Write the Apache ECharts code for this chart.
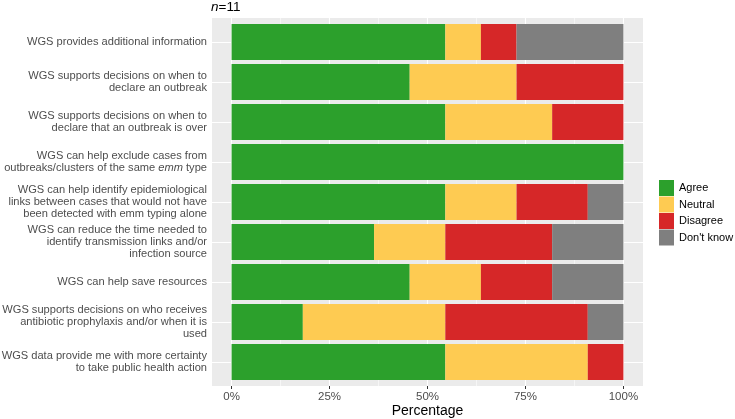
<!DOCTYPE html>
<html>
<head>
<meta charset="UTF-8" />
<title>WGS survey</title>
<style>
  * { margin: 0; padding: 0; }
  html, body { background: #fff; }
  #chart { width: 735px; height: 419px; }
</style>
</head>
<body>
<div id="chart"></div>
<script src="https://cdn.jsdelivr.net/npm/echarts@6/dist/echarts.min.js"></script>
<script>
// answers out of n respondents
const n = 11
const statements = [
  'WGS provides additional information',
  'WGS supports decisions on when to\ndeclare an outbreak',
  'WGS supports decisions on when to\ndeclare that an outbreak is over',
  'WGS can help exclude cases from\noutbreaks/clusters of the same emm type',
  'WGS can help identify epidemiological\nlinks between cases that would not have\nbeen detected with emm typing alone',
  'WGS can reduce the time needed to\nidentify transmission links and/or\ninfection source',
  'WGS can help save resources',
  'WGS supports decisions on who receives\nantibiotic prophylaxis and/or when it is\nused',
  'WGS data provide me with more certainty\nto take public health action'
]
const agree    = [6, 5, 6, 11, 6, 4, 5, 2, 6]
const neutral  = [1, 3, 3, 0, 2, 2, 2, 4, 4]
const disagree = [1, 3, 2, 0, 2, 3, 2, 4, 1]
const dontKnow = [3, 0, 0, 0, 1, 2, 2, 1, 0]

const xTicks = [0, 25, 50, 75, 100]
const xMinor = [12.5, 37.5, 62.5, 87.5]

const colors = ['#2ca02c', '#fecb52', '#d62728', '#7f7f7f']
const answers = [
  { name: 'Agree', values: agree },
  { name: 'Neutral', values: neutral },
  { name: 'Disagree', values: disagree },
  { name: "Don't know", values: dontKnow }
]

const pct = arr => arr.map(c => c / n * 100)
const font = 'Liberation Sans, Arial, sans-serif'

let chart = echarts.init(document.getElementById('chart'))

let barSeries = answers.map((a, i) => ({
  name: a.name,
  type: 'bar',
  stack: 'total',
  xAxisIndex: 1,
  yAxisIndex: 1,
  barWidth: 36,
  z: 3,
  itemStyle: { color: colors[i] },
  data: pct(a.values),
  markLine: i === 0 ? {
    silent: true,
    z: 1,
    symbol: 'none',
    label: { show: false },
    lineStyle: { color: '#fff', width: 1.1, type: 'solid' },
    data: statements.map(s => ({ yAxis: s }))
  } : undefined
}))

let option = {
  animation: false,
  textStyle: { fontFamily: font },
  title: {
    text: '{i|n}=11',
    left: 211,
    top: 0,
    padding: 0,
    textStyle: {
      fontSize: 13.5, fontWeight: 'normal', color: '#000',
      rich: { i: { fontStyle: 'italic', fontSize: 13.5, color: '#000' } }
    }
  },
  legend: {
    orient: 'vertical',
    left: 654,
    top: 175,
    itemWidth: 15,
    itemHeight: 16,
    itemGap: 0.5,
    icon: 'rect',
    textStyle: { fontSize: 11, color: '#000' },
    data: answers.map(a => a.name)
  },
  grid: [
    // panel background
    { left: 212, right: 92, top: 18, bottom: 33, show: true, backgroundColor: '#ebebeb', borderWidth: 0, outerBoundsMode: 'none' },
    // bars
    { left: 212, right: 92, top: 22, bottom: 37, outerBoundsMode: 'none' }
  ],
  xAxis: [
    {
      gridIndex: 0, type: 'value', min: -5, max: 105,
      splitLine: { show: false },
      axisLine: { show: false },
      axisTick: { show: true, customValues: xTicks, length: 3, lineStyle: { color: '#333' } },
      axisLabel: {
        customValues: xTicks, formatter: '{value}%',
        fontSize: 11.5, color: '#4d4d4d', margin: 5
      },
      name: 'Percentage',
      nameLocation: 'middle',
      nameGap: 18,
      nameMoveOverlap: false,
      nameTextStyle: { fontSize: 14, color: '#000', verticalAlign: 'top' }
    },
    {
      gridIndex: 1, type: 'value', min: -5, max: 105, show: false
    }
  ],
  yAxis: [
    { gridIndex: 0, type: 'value', min: 0, max: 1, show: false },
    {
      gridIndex: 1, type: 'category', inverse: true,
      data: statements,
      axisLine: { show: false },
      axisTick: { show: true, alignWithLabel: true, length: 3, lineStyle: { color: '#333' } },
      splitLine: { show: false },
      axisLabel: {
        fontSize: 11.1, color: '#4d4d4d', margin: 5, lineHeight: 11.7, align: 'right',
        formatter: v => v.replace('same emm', 'same {i|emm}'),
        rich: { i: { fontStyle: 'italic', fontSize: 11.1, color: '#4d4d4d', lineHeight: 11.7 } }
      }
    }
  ],
  series: [
    {
      // vertical grid lines over the whole panel
      type: 'line',
      xAxisIndex: 0,
      yAxisIndex: 0,
      data: [],
      silent: true,
      z: 1,
      markLine: {
        silent: true,
        z: 1,
        symbol: 'none',
        label: { show: false },
        data: xTicks.map(v => ({ xAxis: v, lineStyle: { color: '#fff', width: 1.1, type: 'solid' } }))
          .concat(xMinor.map(v => ({ xAxis: v, lineStyle: { color: '#fff', width: 0.55, type: 'solid' } })))
      }
    }
  ].concat(barSeries)
}

chart.setOption(option)
</script>
</body>
</html>
